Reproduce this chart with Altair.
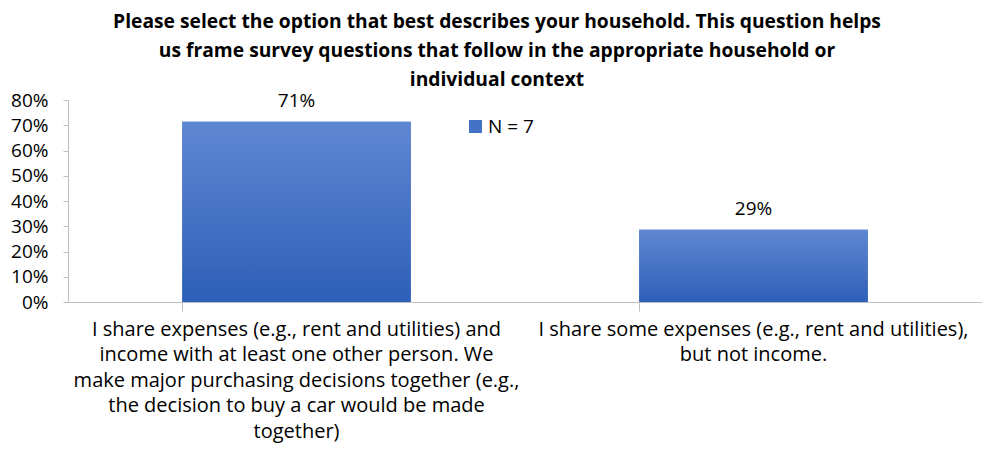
import altair as alt
import pandas as pd

title_lines = [
    "Please select the option that best describes your household. This question helps",
    "us frame survey questions that follow in the appropriate household or",
    "individual context",
]
categories = [
    "I share expenses (e.g., rent and utilities) and\nincome with at least one other person.  We\nmake major purchasing decisions together (e.g.,\nthe decision to buy a car would be made\ntogether)",
    "I share some expenses (e.g., rent and utilities),\nbut not income.",
]
values = [0.714, 0.286]
series = ["N = 7", "N = 7"]
y_ticks = [0, 0.1, 0.2, 0.3, 0.4, 0.5, 0.6, 0.7, 0.8]

df = pd.DataFrame({"cat": categories, "val": values, "series": series})

FONT = "Open Sans"
gradient = alt.LinearGradient(
    gradient="linear", x1=0, y1=0, x2=0, y2=1,
    stops=[alt.GradientStop(color="#5F87D2", offset=0),
           alt.GradientStop(color="#2E5FB7", offset=1)],
)

x = alt.X("cat:N", sort=categories, title=None,
          scale=alt.Scale(paddingInner=0.5, paddingOuter=0.25),
          axis=alt.Axis(labelExpr="split(datum.label, '\\n')", labelAngle=0,
                        labelFontSize=20, labelFont=FONT, labelColor="#000000",
                        labelLineHeight=25.5, labelLimit=600, labelPadding=8,
                        labelBaseline="top",
                        bandPosition=0, tickSize=9, tickColor="#BFBFBF",
                        domainColor="#BFBFBF", grid=False))
y = alt.Y("val:Q", title=None,
          scale=alt.Scale(domain=[0, 0.8], nice=False),
          axis=alt.Axis(values=y_ticks, format=".0%", labelFontSize=19,
                        labelFont=FONT, labelColor="#000000", labelPadding=15,
                        tickSize=5, tickColor="#BFBFBF", domainColor="#BFBFBF",
                        grid=False))

base = alt.Chart(df)
bars_legend = base.mark_bar().encode(
    x=x, y=y,
    color=alt.Color("series:N", scale=alt.Scale(range=["#4472C4"]),
                    legend=alt.Legend(title=None, orient="none", legendX=398,
                                      legendY=17, symbolType="square",
                                      symbolSize=169, symbolStrokeWidth=0,
                                      labelFontSize=19, labelFont=FONT,
                                      labelColor="#000000", labelOffset=3)),
)
bars_grad = base.mark_bar(color=gradient).encode(x=x, y=y)
labels = base.mark_text(dy=-21, fontSize=19, font=FONT, color="#000000").encode(
    x=x, y=y, text=alt.Text("val:Q", format=".0%"))

chart = alt.layer(bars_legend, bars_grad, labels).properties(
    width=914, height=202,
    title=alt.TitleParams(text=title_lines, fontSize=19.25, font=FONT,
                          fontWeight="bold", color="#000000", lineHeight=29,
                          anchor="middle", dx=-28, offset=1),
    autosize=alt.AutoSizeParams(type="none"),
    padding={"left": 60, "top": 92, "right": 0, "bottom": 143},
).configure(background="#FFFFFF").configure_view(strokeOpacity=0)

chart.save("out.html", embed_options={"renderer": "svg", "actions": False})
